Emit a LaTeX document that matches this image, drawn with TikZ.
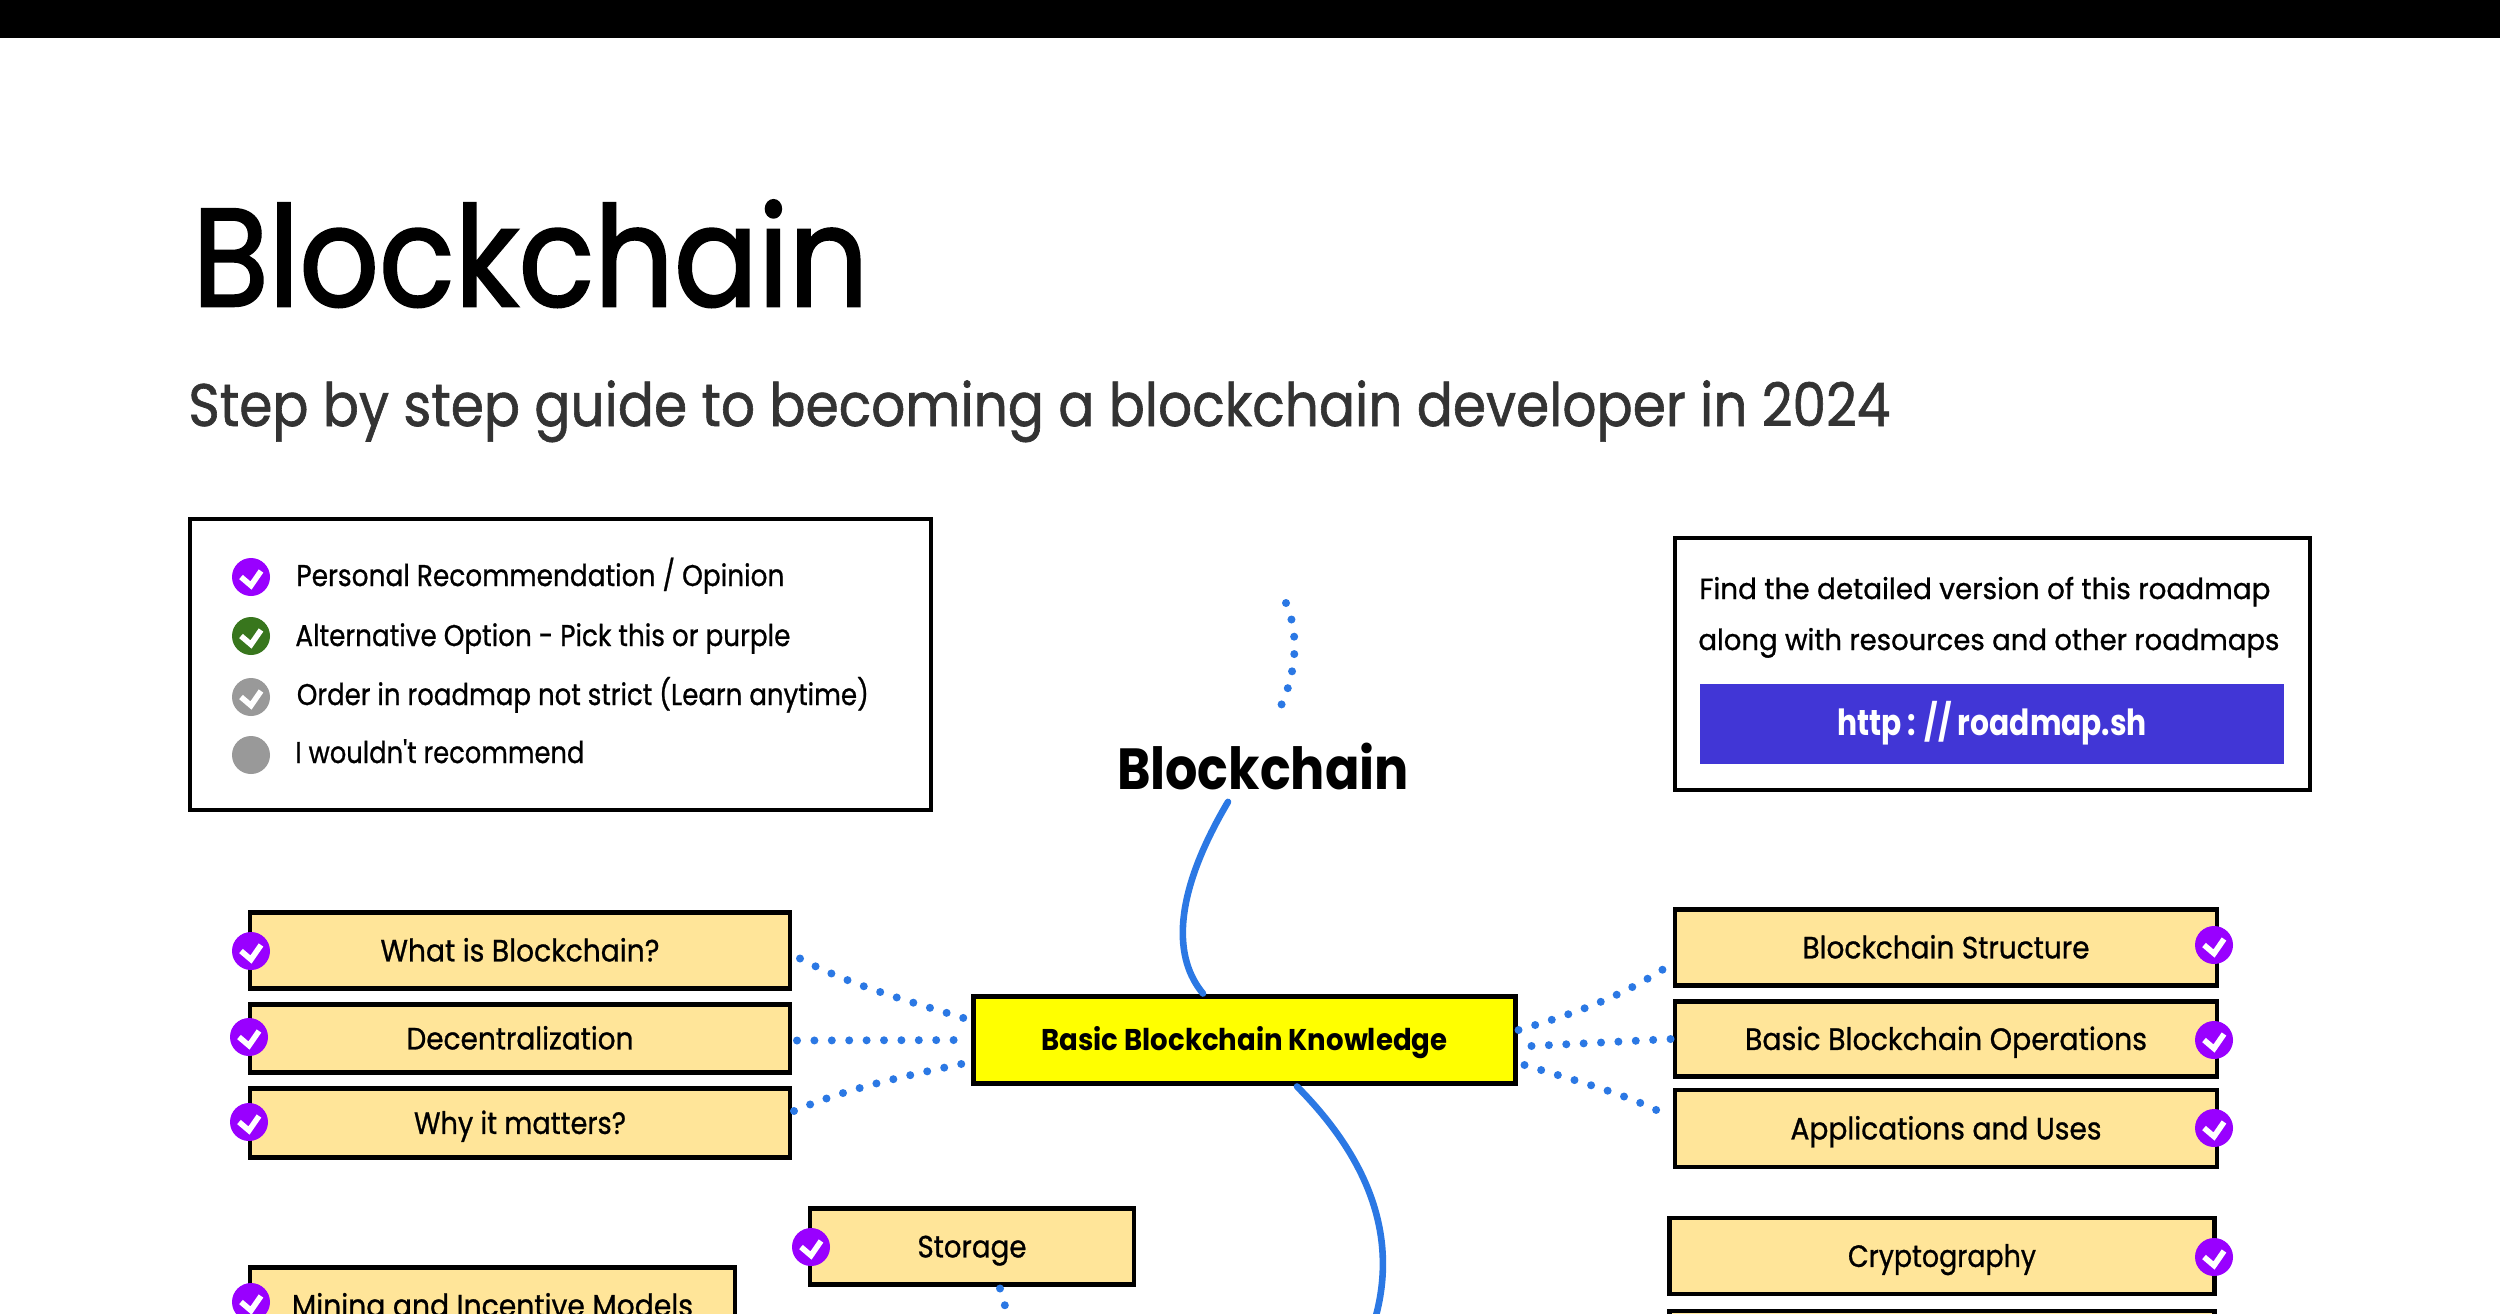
\documentclass[tikz,border=0pt]{standalone}
\usepackage{fontspec}
\usepackage{graphicx}
\setmainfont{Poppins}[FakeBold=0.9]
\newfontfamily\aposfont{Poppins}[FakeBold=0.9]
\newfontfamily\titlefont{Poppins}[FakeBold=1.8]
\newfontfamily\subfont{Poppins}[FakeBold=1.1]
\newfontfamily\heavyfont{Poppins}
\definecolor{purplec}{HTML}{9900FF}
\definecolor{greenc}{HTML}{38761D}
\definecolor{greyc}{HTML}{999999}
\definecolor{boxfill}{HTML}{FFE599}
\definecolor{mainfill}{HTML}{FFFF00}
\definecolor{flowblue}{HTML}{2B78E4}
\definecolor{btnblue}{HTML}{4136D6}
\definecolor{subgrey}{HTML}{333333}
\newcommand{\fitw}[2]{\resizebox{#1}{\height}{#2}}
\tikzset{
  x=0.5pt,y=-0.5pt,
  sketchline/.style={draw=black,line width=2.3pt,outer sep=0pt},
  frame/.style={sketchline,fill=white},
  topic/.style={sketchline,fill=boxfill,inner sep=0pt,text=black,font=\fontsize{15.4}{18}\selectfont,text height=13.4pt,text depth=2.5pt,align=center},
  maintopic/.style={topic,fill=mainfill,font=\heavyfont\bfseries\fontsize{15}{18}\selectfont},
  lbl/.style={anchor=base west,inner sep=0pt,text=black,font=\fontsize{15}{18}\selectfont},
  badge/.style={circle,minimum size=19pt,inner sep=0pt,fill=#1},
  tick/.style={badge=#1,path picture={\draw[white,line width=2.8pt]
     ([shift={(-10,0)}]path picture bounding box.center) -- ++(10,8.5) -- ++(10,-14.5);}},
  dots/.style={flowblue,line width=4pt,line cap=round,dash pattern=on 0pt off 8.7pt},
  flow/.style={flowblue,line width=3.3pt,line cap=round},
}
\begin{document}
\begin{tikzpicture}
\useasboundingbox (0,0) rectangle (2500,1313);
\clip (0,0) rectangle (2500,1313);
\fill[white] (0,0) rectangle (2500,1313);
\fill[black] (0,0) rectangle (2500,38);

% headline
\node[anchor=base west,inner sep=0pt,text=black,font=\titlefont\fontsize{69.5}{80}\selectfont] (headline) at (192,306) {\fitw{338pt}{Blockchain}};
\node[anchor=base west,inner sep=0pt,text=subgrey,font=\subfont\fontsize{30}{36}\selectfont] (subline) at (188,426) {\fitw{851pt}{Step by step guide to becoming a blockchain developer in 2024}};

% legend
\node[frame,minimum width=370.5pt,minimum height=145.5pt,inner sep=0pt] (legend) at (560.5,664.5) {};
\node[tick=purplec] (k1) at (251,577) {};
\node[tick=greenc] (k2) at (251,636) {};
\node[tick=greyc] (k3) at (251,697) {};
\node[badge=greyc] (k4) at (251,755) {};
\node[lbl] (t1) at (296,586) {\fitw{244pt}{Personal Recommendation / Opinion}};
\node[lbl] (t2) at (295,646) {\fitw{247.5pt}{Alternative Option - Pick this or purple}};
\node[lbl] (t3) at (296.5,705) {\fitw{286pt}{Order in roadmap not strict (Learn anytime)}};
\node[lbl] (t4) at (295,763) {\fitw{144.5pt}{I wouldn{\aposfont '}t recommend}};

% info box
\node[frame,minimum width=317.5pt,minimum height=126pt,inner sep=0pt] (info) at (1992.5,664) {};
\node[lbl,font=\fontsize{14.5}{18}\selectfont] (i1) at (1699,599) {\fitw{285.5pt}{Find the detailed version of this roadmap}};
\node[lbl,font=\fontsize{14.5}{18}\selectfont] (i2) at (1698,650) {\fitw{290.5pt}{along with resources and other roadmaps}};
\node[fill=btnblue,text=white,minimum width=292pt,minimum height=40pt,inner sep=0pt,font=\heavyfont\bfseries\fontsize{18}{20}\selectfont,text height=15pt,text depth=4pt] (btn) at (1992,724) {\fitw{155pt}{http : // roadmap.sh}};

% centre column
\node[anchor=base,inner sep=0pt,text=black,font=\heavyfont\bfseries\fontsize{29}{32}\selectfont] (root) at (1263,789) {\fitw{146pt}{Blockchain}};
\node[maintopic,minimum width=271pt,minimum height=43.5pt] (basic) at (1244.5,1040) {\fitw{203pt}{Basic Blockchain Knowledge}};

% left column
\node[topic,minimum width=270pt,minimum height=38pt] (what) at (520,950.5) {\fitw{139.5pt}{What is Blockchain?}};
\node[topic,minimum width=270pt,minimum height=34pt] (decent) at (520,1038.5) {\fitw{113.5pt}{Decentralization}};
\node[topic,minimum width=270pt,minimum height=34.5pt] (why) at (520,1123) {\fitw{106pt}{Why it matters?}};
\node[topic,minimum width=162pt,minimum height=38pt] (storage) at (972,1246.5) {\fitw{54.5pt}{Storage}};
\node[topic,minimum width=242.5pt,minimum height=38pt] (mining) at (492.5,1305.5) {\fitw{200.5pt}{Mining and Incentive Models}};

% right column
\node[topic,minimum width=271pt,minimum height=38pt] (struct) at (1946,947.5) {\fitw{143.5pt}{Blockchain Structure}};
\node[topic,minimum width=271pt,minimum height=37.5pt] (ops) at (1946,1039) {\fitw{201pt}{Basic Blockchain Operations}};
\node[topic,minimum width=271pt,minimum height=38.5pt] (apps) at (1946,1128.5) {\fitw{155.5pt}{Applications and Uses}};
\node[topic,minimum width=272.5pt,minimum height=38pt] (crypto) at (1942,1256) {\fitw{94pt}{Cryptography}};
\node[topic,minimum width=272.5pt,minimum height=38pt] (next) at (1942,1349) {};

% connectors
\coordinate (rootTop) at (1286,603);
\draw[dots] (rootTop) .. controls (1302,640) and (1294,685) .. ([shift={(11,-23)}]root.north);
\draw[flow] ([shift={(-35,12)}]root.south) .. controls (1170,900) and (1175,960) .. ([shift={(-41.5,-3)}]basic.north);
\coordinate (flowEnd) at (1368,1340);
\draw[flow] ([shift={(52.5,3)}]basic.south) .. controls (1370,1160) and (1405,1245) .. (flowEnd);

\draw[dots] ([shift={(10,8)}]what.east) .. controls (850,985) and (905,1000) .. ([shift={(-10,-22)}]basic.west);
\draw[dots] ([shift={(7,2)}]decent.east) -- ([shift={(-4,0)}]basic.west);
\draw[dots] ([shift={(4,-12)}]why.east) .. controls (850,1087) and (910,1075) .. ([shift={(-3,22)}]basic.west);

\draw[dots] ([shift={(3,-10)}]basic.east) .. controls (1580,1012) and (1625,995) .. ([shift={(-3,16)}]struct.west);
\draw[dots] ([shift={(16,6)}]basic.east) -- ([shift={(-4,0)}]ops.west);
\draw[dots] ([shift={(9,25)}]basic.east) .. controls (1580,1082) and (1630,1095) .. ([shift={(-4,-11)}]apps.west);

\coordinate (storeEnd) at (1012,1330);
\draw[dots] ([shift={(28,4)}]storage.south) -- (storeEnd);

% badges on boxes
\node[tick=purplec] (c1) at (251,951) {};
\node[tick=purplec] (c2) at (249,1037) {};
\node[tick=purplec] (c3) at (249,1122) {};
\node[tick=purplec] (c4) at (811,1247) {};
\node[tick=purplec] (c5) at (251,1302) {};
\node[tick=purplec] (c6) at (2214,945) {};
\node[tick=purplec] (c7) at (2214,1040) {};
\node[tick=purplec] (c8) at (2214,1128) {};
\node[tick=purplec] (c9) at (2214,1257) {};
\end{tikzpicture}
\end{document}
